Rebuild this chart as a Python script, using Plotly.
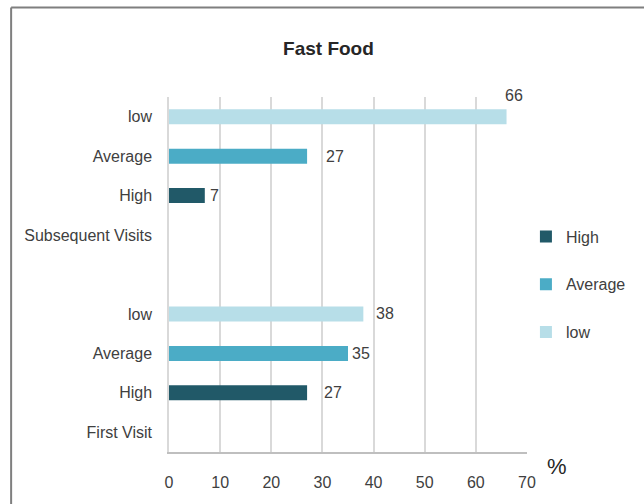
import plotly.graph_objects as go

# Row keys (bottom -> top) and their displayed labels
row_keys = ["First Visit", "FV High", "FV Average", "FV low", "gap",
            "Subsequent Visits", "SV High", "SV Average", "SV low"]
row_labels = ["First Visit", "High", "Average", "low", "",
              "Subsequent Visits", "High", "Average", "low"]

series_names = ["High", "Average", "low"]
series_rows = {
    "High": ["FV High", "SV High"],
    "Average": ["FV Average", "SV Average"],
    "low": ["FV low", "SV low"],
}
series_values = {
    "High": [27, 7],
    "Average": [35, 27],
    "low": [38, 66],
}
x_ticks = [0, 10, 20, 30, 40, 50, 60, 70]

colors = {"High": "#215968", "Average": "#4BACC6", "low": "#B7DEE8"}
# label offsets (px) for the data labels: (xshift, yshift)
label_offsets = {
    ("High", 0): (15, 0), ("High", 1): (3, 0),
    ("Average", 0): (2, 0), ("Average", 1): (17, 0),
    ("low", 0): (11, 0), ("low", 1): (-4, 21),
}

FONT = "Liberation Sans Narrow, Arial Narrow, Liberation Sans, sans-serif"

fig = go.Figure()
annotations = []
for name in series_names:
    fig.add_trace(go.Bar(
        y=series_rows[name], x=series_values[name], orientation="h",
        name=name, marker=dict(color=colors[name], line=dict(width=0)),
        width=0.38, legendgroup=name,
    ))
    for i, (r, v) in enumerate(zip(series_rows[name], series_values[name])):
        xs, ys = label_offsets[(name, i)]
        annotations.append(dict(
            x=v, y=r, xref="x", yref="y", text=str(v), showarrow=False,
            xanchor="left", yanchor="middle", xshift=xs, yshift=ys,
            font=dict(family=FONT, size=16, color="#404040"),
        ))

annotations.append(dict(
    x=1.05, y=-0.04, xref="paper", yref="paper", text="%", showarrow=False,
    xanchor="left", yanchor="middle",
    font=dict(family=FONT, size=22, color="#262626"),
))

fig.update_layout(
    width=644, height=504, autosize=False,
    margin=dict(l=169, r=117, t=97, b=52, autoexpand=False),
    paper_bgcolor="white", plot_bgcolor="white",
    barmode="overlay",
    title=dict(text="<b>Fast Food</b>", x=0.51, xanchor="center", y=0.905,
               yanchor="middle",
               font=dict(family=FONT, size=19, color="#262626")),
    font=dict(family=FONT, size=16, color="#404040"),
    xaxis=dict(range=[0, 70], tickvals=x_ticks, showgrid=True,
               gridcolor="#D9D9D9", gridwidth=1.5, zeroline=False,
               showline=True, linecolor="#BFBFBF", linewidth=1.5,
               ticks="", ticklabelstandoff=15, automargin=False,
               tickfont=dict(family=FONT, size=16, color="#404040")),
    yaxis=dict(categoryorder="array", categoryarray=row_keys,
               tickmode="array", tickvals=row_keys, ticktext=row_labels,
               range=[-0.5, len(row_keys) - 0.5],
               showgrid=False, zeroline=False, showline=True,
               linecolor="#D9D9D9", linewidth=1.5, ticks="",
               ticklabelstandoff=12, automargin=False,
               tickfont=dict(family=FONT, size=16, color="#404040")),
    legend=dict(x=0.997, y=0.655, xanchor="left", yanchor="top",
                traceorder="grouped", tracegroupgap=24,
                font=dict(family=FONT, size=16, color="#404040"),
                itemwidth=30, bgcolor="rgba(0,0,0,0)"),
    annotations=annotations,
    shapes=[
        dict(type="line", xref="paper", yref="paper",
             x0=-0.441, x1=1.4, y0=1.252, y1=1.252,
             line=dict(color="#7F7F7F", width=2)),
        dict(type="line", xref="paper", yref="paper",
             x0=-0.441, x1=-0.441, y0=1.252, y1=-0.2,
             line=dict(color="#7F7F7F", width=2)),
    ],
)

post = ("document.body.style.margin='0';"
        "document.body.style.overflow='hidden';")

fig.write_html("out.html",
               config={"responsive": False, "displayModeBar": False},
               post_script=post)
